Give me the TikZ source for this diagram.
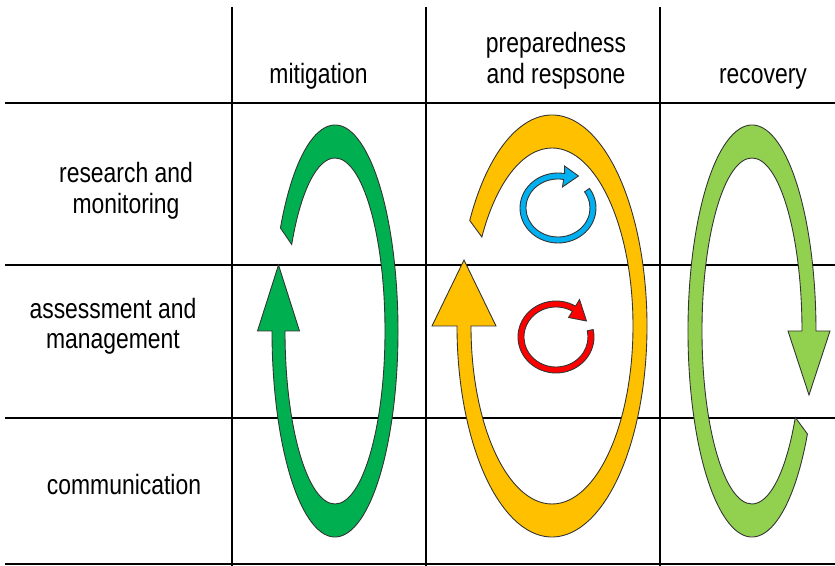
\documentclass[tikz,border=0pt]{standalone}
\usepackage{fontspec}
\setmainfont{Liberation Sans}[FakeStretch=0.82]
\usepackage{xcolor}
\usepackage{tikz}

\definecolor{mitig}{RGB}{0,176,80}
\definecolor{prep}{RGB}{255,192,0}
\definecolor{recov}{RGB}{146,208,80}
\definecolor{loopblue}{RGB}{0,176,240}
\definecolor{loopred}{RGB}{255,0,0}

\begin{document}
\begin{tikzpicture}[lab/.style={align=center, anchor=base, font=\fontsize{15.9}{17.6}\selectfont},
                    gridline/.style={line width=1.6pt},
                    band/.style={draw=black!80, line width=0.5pt}]
                \useasboundingbox (0,0) rectangle (16.7,11.32);
                % table
                \draw [gridline] (0.1,9.26) -- (16.7,9.26);
                \draw [gridline] (0.1,6.02) -- (16.7,6.02);
                \draw [gridline] (0.1,2.96) -- (16.7,2.96);
                \draw [gridline] (0.1,0.04) -- (16.7,0.04);
                \draw [gridline] (4.64,11.18) -- (4.64,0);
                \draw [gridline] (8.52,11.18) -- (8.52,0);
                \draw [gridline] (13.2,11.18) -- (13.2,0);
                % labels
                \node [lab] (mitigation) at (6.37,9.65) {mitigation};
                \node [lab] (prepare) at (11.12,9.65) {preparedness\\and respsone};
                \node [lab] (recovery) at (15.26,9.65) {recovery};
                \node [lab] (research) at (2.52,7.05) {research and\\monitoring};
                \node [lab] (assess) at (2.26,4.34) {assessment and\\management};
                \node [lab] (comm) at (2.48,1.42) {communication};
                % big cycles
                \filldraw [band, fill=mitig] (6.70,4.70) ++(150:1.26 and 4.12)
                    arc [start angle=150, end angle=-180, x radius=1.26, y radius=4.12]
                    -- (5.15,4.70) -- (5.57,6.02) -- (5.99,4.70) -- (5.70,4.70)
                    arc [start angle=-180, end angle=150, x radius=1.00, y radius=3.46] -- cycle;
                \filldraw [band, fill=prep] (11.04,4.80) ++(150:1.90 and 4.22)
                    arc [start angle=150, end angle=-180, x radius=1.90, y radius=4.22]
                    -- (8.64,4.80) -- (9.28,6.12) -- (9.92,4.80) -- (9.42,4.80)
                    arc [start angle=-180, end angle=150, x radius=1.62, y radius=3.56] -- cycle;
                \filldraw [band, fill=recov] (15.04,4.70) ++(-30:1.28 and 4.12)
                    arc [start angle=-30, end angle=-360, x radius=1.28, y radius=4.12]
                    -- (16.60,4.70) -- (16.18,3.42) -- (15.76,4.70) -- (16.04,4.70)
                    arc [start angle=-360, end angle=-30, x radius=1.00, y radius=3.46] -- cycle;
                % small loops
                \begin{scope}[shift={(11.16,7.16)}]
                    \filldraw [band, fill=loopblue] (34:0.76 and 0.70)
                        arc [start angle=34, end angle=-280, x radius=0.76, y radius=0.70]
                        -- (0.13,0.84) -- (0.41,0.64) -- (0.09,0.42) -- (80:0.64 and 0.58)
                        arc [start angle=-280, end angle=34, x radius=0.64, y radius=0.58] -- cycle;
                \end{scope}
                \begin{scope}[shift={(11.12,4.58)}]
                    \filldraw [band, fill=loopred] (12:0.76 and 0.72)
                        arc [start angle=12, end angle=-301, x radius=0.76, y radius=0.72]
                        -- (0.47,0.75) -- (0.61,0.32) -- (0.25,0.39) -- (59:0.64 and 0.60)
                        arc [start angle=-301, end angle=12, x radius=0.64, y radius=0.60] -- cycle;
                \end{scope}
            \end{tikzpicture}
\end{document}
